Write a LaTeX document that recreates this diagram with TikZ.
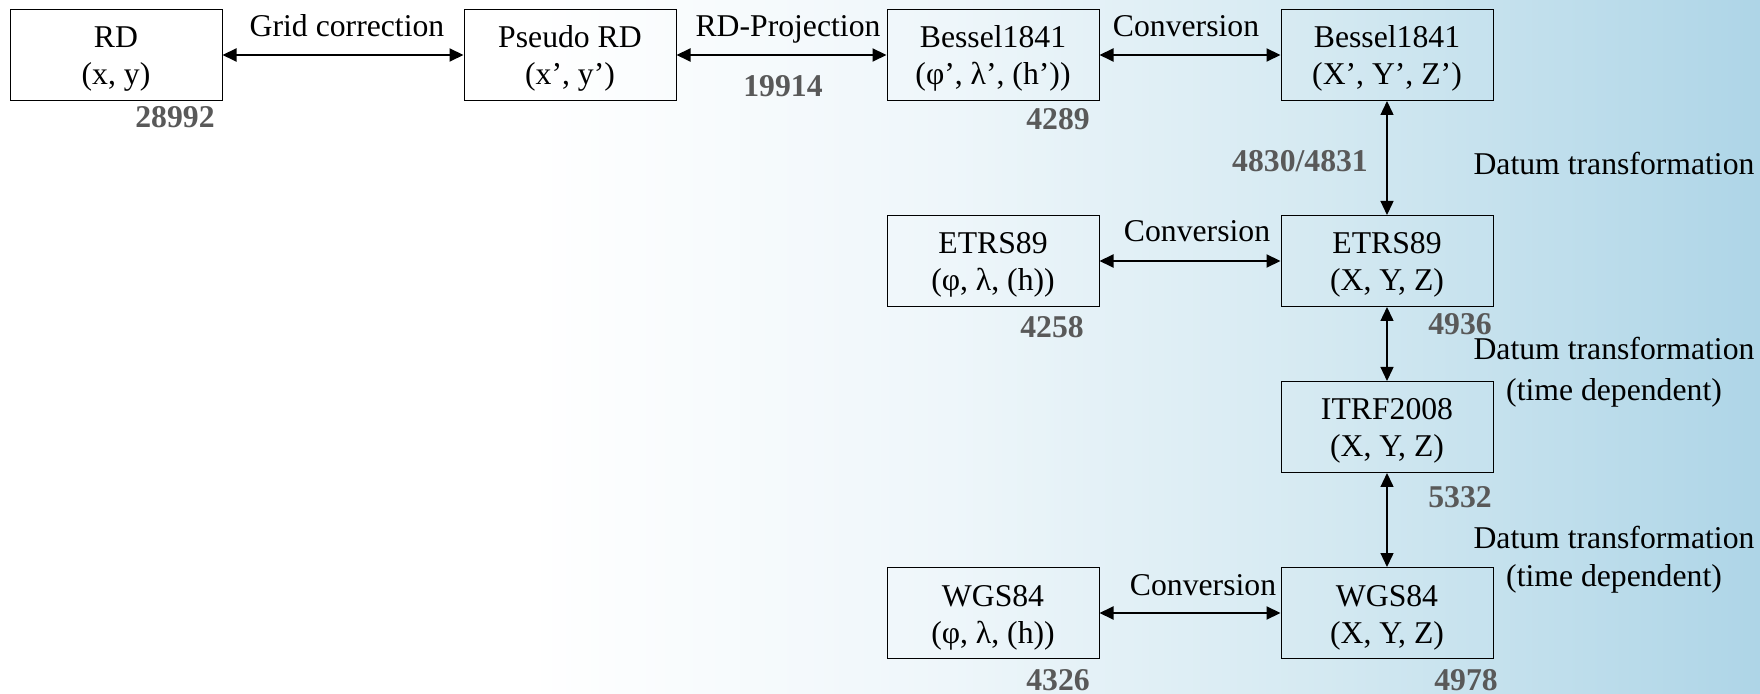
\documentclass[tikz,border=0pt]{standalone}
\usepackage{fontspec}
\setmainfont{Liberation Serif}
\usetikzlibrary{arrows.meta, positioning}

\definecolor{codegray}{RGB}{89,89,89}
\definecolor{bgpale}{RGB}{238,246,250}
\definecolor{bgmid}{RGB}{214,234,242}
\definecolor{bgblue}{RGB}{174,213,231}
\pgfdeclarehorizontalshading{bgshade}{100bp}{color(0bp)=(white); color(25bp)=(white); color(40bp)=(white); color(52bp)=(bgpale); color(62bp)=(bgmid); color(75bp)=(bgblue); color(100bp)=(bgblue)}

\begin{document}
\begin{tikzpicture}[
            x = 0.5pt, % one unit is one pixel of the layout
            y = -0.5pt, % y grows downwards
            > = {Triangle[length=7pt, width=6.5pt]}, % arrow head style
            font = \fontsize{15.85}{18.5}\selectfont
        ]

        \tikzstyle{crsbox}=[
            draw = black,
            line width = 0.5pt,
            minimum width = 106pt,
            minimum height = 45.5pt,
            inner sep = 0pt,
            text height = 30pt, % whole two-line block above the last baseline
            text depth = 0pt,
            align = center
        ]
        \tikzstyle{oplabel}=[anchor = base, inner sep = 0pt]
        \tikzstyle{epsg}=[oplabel, font = \fontsize{15.85}{18.5}\selectfont\bfseries, text = codegray]

        % background
        \shade[shading = bgshade] (0,0) rectangle (1760,694);
        \useasboundingbox (0,0) rectangle (1760,694);

        % coordinate systems
        \node[crsbox] (rd) at (116,55) {RD\\(x, y)};
        \node[crsbox] (pseudo) at (570,55) {Pseudo RD\\(x’, y’)};
        \node[crsbox] (besselgeo) at (993,55) {Bessel1841\\(φ’, λ’, (h’))};
        \node[crsbox] (besselxyz) at (1387,55) {Bessel1841\\(X’, Y’, Z’)};
        \node[crsbox] (etrsgeo) at (993,261) {ETRS89\\(φ, λ, (h))};
        \node[crsbox] (etrsxyz) at (1387,261) {ETRS89\\(X, Y, Z)};
        \node[crsbox] (itrf) at (1387,427) {ITRF2008\\(X, Y, Z)};
        \node[crsbox] (wgsgeo) at (993,613) {WGS84\\(φ, λ, (h))};
        \node[crsbox] (wgsxyz) at (1387,613) {WGS84\\(X, Y, Z)};

        % operations
        \path[<->, line width = 1pt] (rd) edge (pseudo);
        \path[<->, line width = 1pt] (pseudo) edge (besselgeo);
        \path[<->, line width = 1pt] (besselgeo) edge (besselxyz);
        \path[<->, line width = 1pt] (etrsgeo) edge (etrsxyz);
        \path[<->, line width = 1pt] (wgsgeo) edge (wgsxyz);
        \path[<->, line width = 0.7pt] (besselxyz) edge (etrsxyz);
        \path[<->, line width = 0.7pt] (etrsxyz) edge (itrf);
        \path[<->, line width = 0.7pt] (itrf) edge (wgsxyz);

        \node[oplabel] (lgrid) at (347,37) {Grid correction};
        \node[oplabel] (lproj) at (788,37) {RD-Projection};
        \node[oplabel] (lconva) at (1186,37) {Conversion};
        \node[oplabel] (lconvb) at (1197,242) {Conversion};
        \node[oplabel] (lconvc) at (1203,595) {Conversion};
        \node[oplabel] (ldatuma) at (1614,175) {Datum transformation};
        \node[oplabel] (ldatumb) at (1614,360) {Datum transformation};
        \node[oplabel] (ltimeb) at (1614,401) {(time dependent)};
        \node[oplabel] (ldatumc) at (1614,548) {Datum transformation};
        \node[oplabel] (ltimec) at (1614,586) {(time dependent)};

        % EPSG codes
        \node[epsg] (c28992) at (175,128) {28992};
        \node[epsg] (c19914) at (783,97) {19914};
        \node[epsg] (c4289) at (1058,130) {4289};
        \node[epsg] (c4830) at (1300,172) {4830/4831};
        \node[epsg] (c4258) at (1052,338) {4258};
        \node[epsg] (c4936) at (1460,335) {4936};
        \node[epsg] (c5332) at (1460,508) {5332};
        \node[epsg] (c4326) at (1058,690) {4326};
        \node[epsg] (c4978) at (1466,690) {4978};

    \end{tikzpicture}
\end{document}
